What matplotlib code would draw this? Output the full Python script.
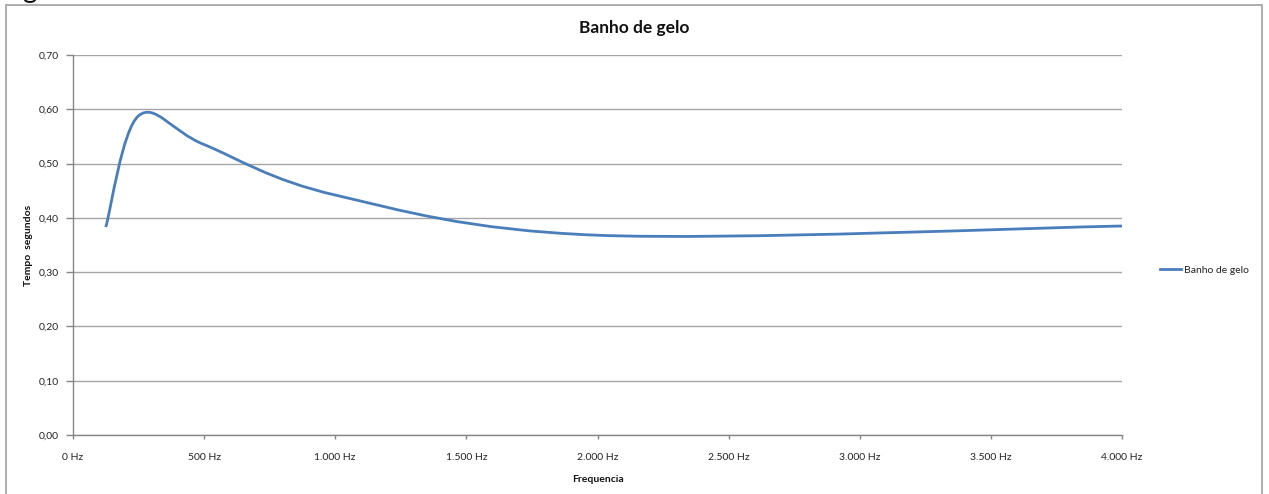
import matplotlib
matplotlib.use("Agg")
import matplotlib.pyplot as plt
from matplotlib.path import Path
from matplotlib.patches import PathPatch, Rectangle
from matplotlib.lines import Line2D
from matplotlib.ticker import FuncFormatter, MultipleLocator

plt.rcParams['font.family'] = ['Lato', 'DejaVu Sans']

# Octave band measurements
freq_hz = [125, 250, 500, 1000, 2000, 4000]
tempo_s = [0.383, 0.588, 0.535, 0.442, 0.368, 0.385]
series_name = "Banho de gelo"
title = "Banho de gelo"
xlabel = "Frequencia"
ylabel = "Tempo  segundos"

LINE = "#4a7ebb"
GRID = "#a6a6a6"
AXIS = "#868686"
TXT = "#222222"

fig = plt.figure(figsize=(12.69, 4.94), dpi=100)
ax = fig.add_axes([73 / 1269, 59 / 494, 1049 / 1269, 380 / 494])

# Smoothed line: cubic Bezier segments with Catmull-Rom style control points
pts = list(zip(freq_hz, tempo_s))
verts = [pts[0]]
codes = [Path.MOVETO]
n = len(pts)
for i in range(n - 1):
    p0 = pts[i - 1] if i > 0 else pts[i]
    p1 = pts[i]
    p2 = pts[i + 1]
    p3 = pts[i + 2] if i + 2 < n else pts[i + 1]
    c1 = (p1[0] + (p2[0] - p0[0]) / 6, p1[1] + (p2[1] - p0[1]) / 6)
    c2 = (p2[0] - (p3[0] - p1[0]) / 6, p2[1] - (p3[1] - p1[1]) / 6)
    verts += [c1, c2, p2]
    codes += [Path.CURVE4] * 3
ax.add_patch(PathPatch(Path(verts, codes), facecolor="none", edgecolor=LINE,
                       lw=2.0, capstyle="butt", zorder=3))

ax.set_xlim(0, 4000)
ax.set_ylim(0, 0.70)
ax.xaxis.set_major_locator(MultipleLocator(500))
ax.yaxis.set_major_locator(MultipleLocator(0.10))


def fmt_hz(v, _):
    return f"{int(round(v)):,} Hz".replace(",", ".")


def fmt_y(v, _):
    return f"{v:.2f}".replace(".", ",")


ax.xaxis.set_major_formatter(FuncFormatter(fmt_hz))
ax.yaxis.set_major_formatter(FuncFormatter(fmt_y))

ax.grid(axis="y", color=GRID, lw=1.0)
ax.set_axisbelow(True)
for s in ("top", "right"):
    ax.spines[s].set_visible(False)
for s in ("left", "bottom"):
    ax.spines[s].set_color(AXIS)
    ax.spines[s].set_linewidth(1.0)
ax.tick_params(axis="y", length=5, width=1, color=AXIS, labelsize=7.5,
               labelcolor=TXT, pad=5)
ax.tick_params(axis="x", length=3, width=1, color=AXIS, labelsize=7.5,
               labelcolor=TXT, pad=10)

# Title centred over the whole chart area
fig.text(634 / 1269, 1 - 28 / 494, title, fontsize=12.5, fontweight="bold",
         color="#111111", ha="center", va="center")
ax.set_xlabel(xlabel, fontsize=7.5, fontweight="bold", color="#111111", labelpad=9)
ax.set_ylabel(ylabel, fontsize=7.5, fontweight="bold", color="#111111", labelpad=4)

handle = Line2D([], [], color=LINE, lw=2.0)
fig.legend([handle], [series_name], loc="center left",
           bbox_to_anchor=(1160 / 1269, 1 - 270 / 494), frameon=False,
           fontsize=7.5, handlelength=2.0, handletextpad=0.35,
           borderpad=0, borderaxespad=0, labelcolor=TXT)

# Chart area border
fig.patches.append(Rectangle((6 / 1269, -0.05), 1256 / 1269, 1.05 - 5 / 494,
                             transform=fig.transFigure, fill=False,
                             edgecolor="#a0a0a0", lw=1.2))

# Heading above the chart, cut by the top edge
fig.text(22 / 1269, 1.0 + 2 / 494, "g", fontsize=20, color="#111111",
         va="baseline", ha="left")

fig.savefig("out.png", dpi=100)
